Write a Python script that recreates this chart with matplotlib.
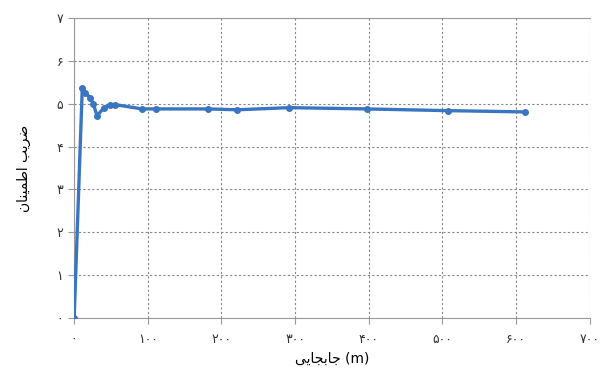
import numpy as np
import matplotlib
matplotlib.use("Agg")
import matplotlib.pyplot as plt

# displacement (m) and safety factor
x_disp = [0, 11, 15, 22, 26, 31, 40, 49, 56, 92, 111, 182, 221, 292, 397, 507, 612]
fs = [0, 5.37, 5.26, 5.14, 5.0, 4.72, 4.9, 4.98, 4.98, 4.88, 4.88, 4.88, 4.86, 4.91, 4.88, 4.84, 4.81]

fa_digits = "۰۱۲۳۴۵۶۷۸۹"
def fa(n):
    return "".join(fa_digits[int(c)] for c in str(n))

x_ticks = [0, 100, 200, 300, 400, 500, 600, 700]
y_ticks = [0, 1, 2, 3, 4, 5, 6, 7]

# Persian labels written in shaped (presentation) forms, visual order
ylabel = "\uFEE5\uFE8E\uFEE8\uFEF4\uFEE4\uFEC3\uFE8D \uFE90\uFEF3\uFEAE\uFEBF"
xlabel = "\uFEF0\uFEF3\uFE8E\uFEA0\uFE91\uFE8E\uFE9F (m)"

plt.rcParams['font.family'] = ['DejaVu Sans']

fig = plt.figure(figsize=(6.03, 3.78), dpi=100)
ax = fig.add_axes([0.123, 0.159, 0.855, 0.793])

ax.plot(x_disp, fs, color='#3a75c2', lw=2.4, marker='o', ms=4, zorder=3)

ax.set_xlim(0, 700)
ax.set_ylim(0, 7)
ax.set_xticks(x_ticks)
ax.set_xticklabels([fa(v) for v in x_ticks])
ax.set_yticks(y_ticks)
ax.set_yticklabels([fa(v) for v in y_ticks])
ax.tick_params(labelsize=9, colors='#333333', length=4, color='#999999')
ax.tick_params(axis='x', pad=7)
ax.tick_params(axis='y', pad=4)

ax.grid(True, ls=(0, (2, 2)), color='#888888', lw=0.8)
for s in ['left', 'bottom', 'top']:
    ax.spines[s].set_color('#999999')
ax.spines['right'].set_visible(False)

ax.set_xlabel(xlabel, fontsize=10, labelpad=4)
ax.set_ylabel(ylabel, fontsize=10, labelpad=18)

fig.savefig("out.png", dpi=100)
